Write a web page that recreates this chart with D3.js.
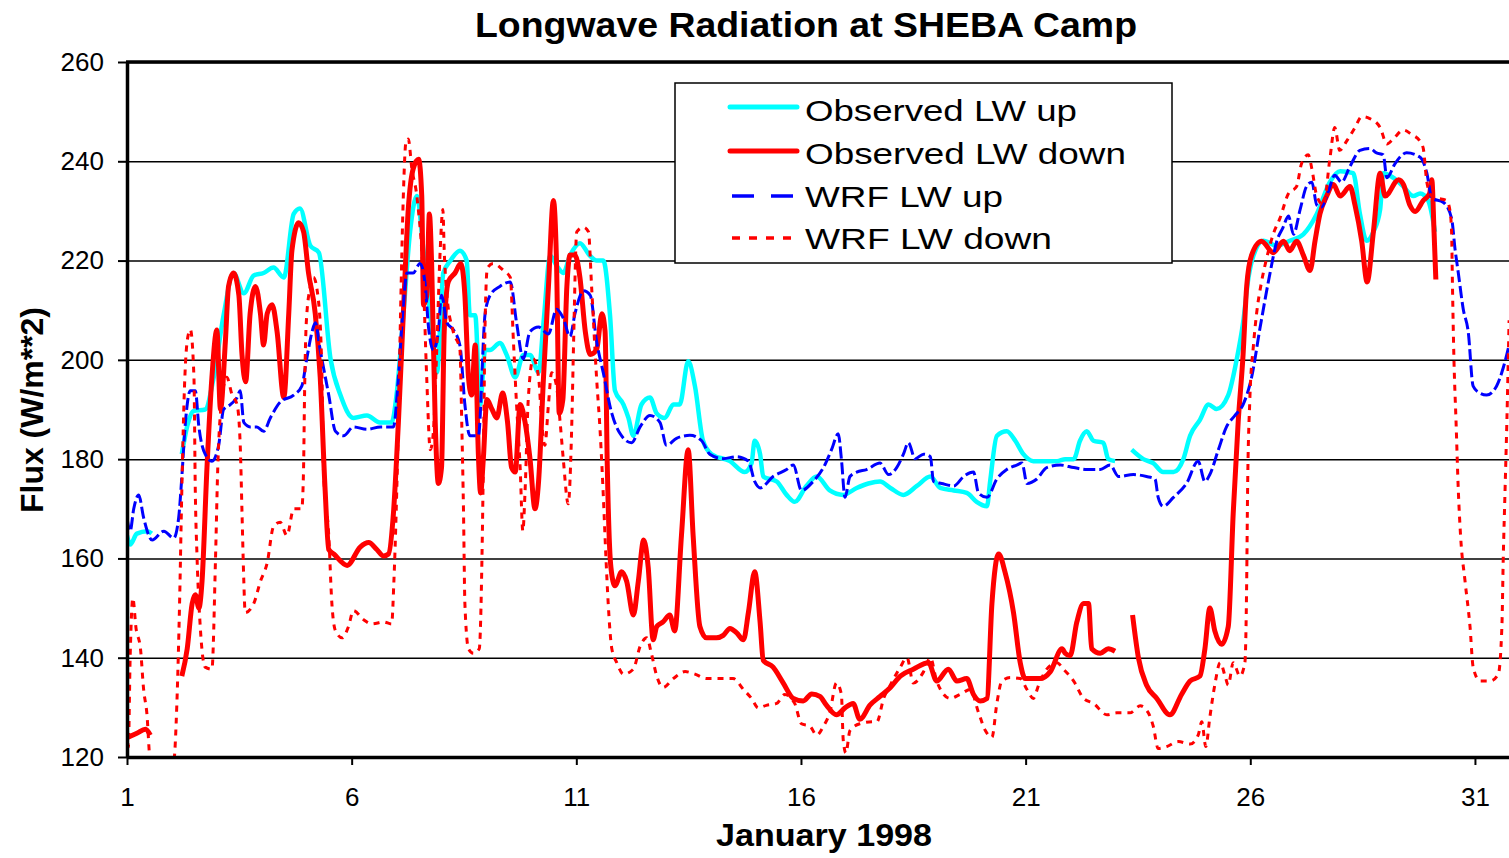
<!DOCTYPE html>
<html lang="en">
<head>
<meta charset="UTF-8">
<title>Longwave Radiation at SHEBA Camp</title>
<script src="https://cdn.jsdelivr.net/npm/d3@7"></script>
<style>
  body { margin: 0; background: #fff; }
  svg { display: block; font-family: "Liberation Sans", Arial, sans-serif; }
</style>
</head>
<body>
<svg width="1509" height="858"></svg>
<script>
// tick labels
var xTicks = [1, 6, 11, 16, 21, 26, 31];
var yTicks = [120, 140, 160, 180, 200, 220, 240, 260];

// legend names
var seriesNames = ["Observed LW up", "Observed LW down", "WRF LW up", "WRF LW down"];

// [day of January 1998, flux W/m2] ; null = missing obs
var obsUp = [[1.0,164.6],[1.07,162.8],[1.22,165],[1.45,165.5],[1.55,165],[1.56,null],
  [2.22,181],[2.35,187],[2.48,189.7],[2.74,190],[2.93,196.5],[3.15,209],[3.37,217.5],[3.6,213.4],[3.82,217],
  [4.04,217.5],[4.26,218.6],[4.49,216.6],[4.71,229.4],[4.85,230.5],[5.08,223],[5.27,221.6],[5.53,200.2],
  [5.75,192.9],[6.04,188.3],[6.34,188.8],[6.63,187.4],[6.89,187.4],[7.0,193],[7.15,209],[7.3,225.8],
  [7.45,233],[7.6,222],[7.75,209],[7.9,197.5],[8.04,217.5],[8.2,220],[8.41,222],[8.56,220],[8.63,209],
  [8.75,209],[8.86,191],[8.97,202],[9.08,202],[9.3,203.4],[9.45,201],[9.64,196.5],[9.82,201],[9.97,201],
  [10.16,197.5],[10.27,207.5],[10.42,221],[10.56,219],[10.71,217.5],[10.86,221],[11.08,223.5],[11.3,221],
  [11.45,220],[11.6,220],[11.75,209],[11.86,193.8],[12.05,191],[12.16,188.3],[12.27,184.7],[12.45,191],
  [12.64,192.4],[12.79,189.2],[12.97,188.3],[13.16,191],[13.3,191],[13.49,199.7],[13.64,194.7],[13.82,183.7],
  [14.01,181],[14.42,179.6],[14.75,177.4],[14.9,179.2],[14.97,183.7],[15.09,181],[15.16,176.5],[15.46,175.5],
  [15.68,172.8],[15.86,171.4],[16.12,174.6],[16.35,176.5],[16.64,173.7],[16.94,172.8],[17.24,174.2],
  [17.5,175.1],[17.76,175.5],[17.99,174.2],[18.28,172.8],[18.58,174.6],[18.88,176.5],[19.1,174.2],
  [19.4,173.7],[19.69,173.2],[19.91,171.4],[20.14,170.5],[20.21,175.5],[20.36,184.7],[20.58,185.6],
  [20.77,183.7],[20.95,181],[21.17,179.6],[21.4,179.6],[21.7,179.6],[21.88,180],[22.07,180],[22.21,183.7],
  [22.36,185.6],[22.51,183.7],[22.73,183.3],[22.84,180],[22.99,179.6],[23.1,null],
  [23.36,181.9],[23.62,180],[23.84,179.2],[24.06,177.4],[24.29,177.4],[24.51,180],[24.66,184.7],[24.88,187.9],
  [25.07,191],[25.25,190.1],[25.51,192.9],[25.7,200.2],[25.84,207.5],[25.96,216.6],[26.07,221],[26.29,224],
  [26.59,223],[26.88,224],[27.18,225.3],[27.48,229.4],[27.77,235.8],[28.0,238],[28.29,237.6],[28.44,229.4],
  [28.59,224],[28.74,225.8],[28.89,230.3],[28.96,237.6],[29.18,236.7],[29.41,234.9],[29.63,233],
  [29.78,233.5],[29.96,232.1],[30.11,225.8]];

var obsDown = [[1.0,123.9],[1.22,124.8],[1.41,125.6],[1.52,124.4],[1.6,null],
  [2.22,136.3],[2.34,141.8],[2.45,150.9],[2.52,152.7],[2.6,150],[2.67,155.4],[2.78,178.3],[2.89,196.5],
  [3.0,206],[3.08,190],[3.19,203.8],[3.26,214.8],[3.37,217.5],[3.49,213],[3.56,201],[3.64,195.6],[3.74,209.3],
  [3.86,214.8],[3.97,209.3],[4.04,203],[4.12,209.3],[4.23,211.1],[4.34,205.7],[4.49,192.4],[4.6,209.3],
  [4.67,222],[4.82,227.6],[4.93,225.8],[5.04,217.5],[5.19,209.3],[5.3,196.5],[5.41,173.7],[5.49,161.8],
  [5.6,160.9],[5.9,158.6],[6.19,162.3],[6.38,163.2],[6.56,161.8],[6.71,160.5],[6.82,160.9],[6.93,169.1],
  [7.04,187.4],[7.15,209.3],[7.26,230.3],[7.37,238.5],[7.49,240.4],[7.56,233],[7.6,211.1],[7.67,212.9],
  [7.73,229.4],[7.78,219.4],[7.86,187.4],[7.93,175.1],[8.0,178.3],[8.06,205.7],[8.15,215.7],[8.3,217.5],
  [8.43,219.4],[8.52,213],[8.6,196.5],[8.67,192.9],[8.75,203],[8.82,181],[8.87,173.2],[8.93,180],[9.01,192],
  [9.12,190.1],[9.23,188.3],[9.36,193.3],[9.47,187.4],[9.56,178.3],[9.64,177.4],[9.75,191],[9.86,187.4],
  [9.97,180],[10.08,170],[10.16,175.5],[10.27,196.5],[10.38,214.8],[10.49,232.1],[10.56,219.4],[10.62,189.2],
  [10.7,192],[10.79,214.8],[10.86,221.1],[10.97,221.1],[11.08,216.6],[11.2,205.7],[11.31,201.1],[11.45,202],
  [11.57,209.3],[11.64,205.7],[11.69,178.3],[11.77,158.2],[11.86,154.5],[12.01,157.3],[12.12,155.4],
  [12.27,148.6],[12.38,155.4],[12.5,163.7],[12.6,158.2],[12.71,143.6],[12.79,146.3],[12.93,147.2],
  [13.08,148.6],[13.19,145.4],[13.34,164.6],[13.49,181.9],[13.6,164.6],[13.75,146.3],[13.9,144],[14.12,144],
  [14.27,144.5],[14.42,145.9],[14.57,145],[14.72,143.6],[14.83,149.1],[14.97,157.3],[15.09,147.2],
  [15.16,139.5],[15.38,138.1],[15.6,135],[15.83,131.8],[16.05,131.3],[16.24,132.7],[16.42,132.2],
  [16.57,130.4],[16.79,128.5],[16.98,129.9],[17.16,130.8],[17.31,127.6],[17.54,130.5],[17.76,132.2],
  [17.99,134],[18.21,136.3],[18.5,137.7],[18.84,139],[19.02,135.3],[19.28,137.7],[19.47,135.3],[19.69,135.8],
  [19.84,132.6],[19.99,131.3],[20.14,131.8],[20.25,150.9],[20.4,160.9],[20.54,157.3],[20.73,149.1],
  [20.88,139],[20.99,135.8],[21.32,135.8],[21.55,137.2],[21.81,141.8],[21.88,140.9],[21.99,140.4],
  [22.14,147.2],[22.29,150.9],[22.4,150.9],[22.47,141.8],[22.66,140.9],[22.84,141.8],[22.99,141.3],[23.1,null],
  [23.38,148.6],[23.51,140],[23.69,134.5],[23.92,131.8],[24.21,128.5],[24.47,132.6],[24.66,135.3],
  [24.88,136.3],[24.99,141.8],[25.1,150],[25.21,145.4],[25.36,142.7],[25.51,146.3],[25.62,169.1],
  [25.73,187.4],[25.84,201.1],[25.92,214.8],[26.03,221.1],[26.25,223.9],[26.51,221.6],[26.74,223.9],
  [26.88,222],[27.03,223.9],[27.18,221.1],[27.33,218],[27.44,223.9],[27.55,229.4],[27.7,233],[27.85,235.3],
  [28.0,233],[28.22,234.9],[28.33,231.2],[28.48,223.9],[28.6,215.7],[28.74,225.8],[28.89,237.6],[29.0,233],
  [29.3,236.3],[29.41,235.3],[29.55,231.2],[29.67,229.9],[29.85,232.1],[29.99,233.5],[30.04,236.3],
  [30.09,225.8],[30.13,216.2]];

var wrfUp = [[1.0,168.2],[1.07,165.5],[1.15,170],[1.26,172.8],[1.37,168.2],[1.56,163.7],[1.82,165.5],
  [2.04,164.1],[2.15,168.2],[2.22,176.4],[2.3,187.4],[2.41,193.8],[2.52,193.8],[2.6,186.5],[2.74,181],
  [2.89,179.6],[3.04,182.8],[3.15,190],[3.3,191],[3.45,192.4],[3.52,193.8],[3.6,187.4],[3.74,186.5],
  [3.89,186.5],[4.04,185.6],[4.19,188.3],[4.41,191.5],[4.71,192.9],[4.89,194.7],[5.0,200.2],[5.12,205.7],
  [5.19,207.5],[5.3,202],[5.49,192.9],[5.64,185.6],[5.82,184.7],[6.04,186.5],[6.34,186],[6.64,186.5],
  [6.93,186.5],[7.04,196.5],[7.15,211.1],[7.23,217.5],[7.37,217.5],[7.52,219.4],[7.63,215.7],[7.71,206.6],
  [7.82,202],[7.93,205.7],[8.0,213],[8.12,207.5],[8.26,206.1],[8.41,202.9],[8.52,191],[8.63,184.7],
  [8.82,184.7],[8.97,209.3],[9.08,213],[9.3,214.8],[9.53,215.7],[9.67,207.5],[9.82,200.2],[9.97,205.7],
  [10.16,206.6],[10.38,205.2],[10.56,210.2],[10.71,208.4],[10.86,204.7],[10.97,209.3],[11.16,213.9],
  [11.31,213],[11.45,203.8],[11.6,197.4],[11.79,189.2],[11.97,185.2],[12.23,183.3],[12.42,186.5],
  [12.64,188.8],[12.86,187.4],[13.01,182.8],[13.23,184.2],[13.53,184.8],[13.79,183.7],[13.97,181],
  [14.27,180.1],[14.57,180.5],[14.83,179.6],[14.97,175.5],[15.09,174.2],[15.38,176.5],[15.68,177.9],
  [15.83,178.8],[16.01,173.7],[16.27,175.5],[16.5,178.3],[16.68,181.9],[16.83,185.1],[16.9,180],
  [16.98,172.3],[17.09,176.5],[17.24,177.4],[17.46,177.9],[17.76,179.2],[17.95,176.9],[18.13,178.3],
  [18.28,181],[18.39,183.3],[18.54,180.1],[18.73,181],[18.88,180.5],[18.95,175.5],[19.13,175.1],[19.4,174.6],
  [19.62,176.5],[19.84,177.4],[19.95,173.2],[20.14,172.3],[20.36,176],[20.58,177.9],[20.8,178.8],
  [20.92,179.2],[21.03,175.1],[21.25,176],[21.47,178.3],[21.77,178.8],[22.07,178.3],[22.36,177.9],
  [22.66,177.9],[22.88,178.8],[23.07,176.5],[23.4,176.9],[23.69,176.5],[23.88,176],[23.95,172.3],
  [24.06,170.5],[24.29,172.3],[24.58,175.1],[24.84,179.6],[24.99,175.5],[25.1,176.9],[25.29,181.9],
  [25.47,186.5],[25.66,188.8],[25.84,191],[26.03,196.5],[26.22,206.6],[26.44,217.5],[26.59,223.9],
  [26.73,226.7],[26.85,229],[26.96,225.3],[27.11,230.3],[27.25,234.9],[27.37,235.8],[27.48,231.2],
  [27.59,230.8],[27.74,234],[27.88,237.2],[28.03,235.8],[28.22,239],[28.44,242.2],[28.66,242.6],
  [28.81,241.7],[28.96,241.3],[29.04,236.7],[29.22,239.5],[29.48,241.7],[29.78,240.8],[29.93,237.6],
  [30.04,232.6],[30.3,231.7],[30.48,228.5],[30.56,222.1],[30.63,217.5],[30.74,210.2],[30.85,205.7],
  [30.96,194.7],[31.11,193.3],[31.26,192.9],[31.48,194.7],[31.63,198.4],[31.76,203]];

var wrfDown = [[1.0,130],[1.03,122],[1.07,140],[1.13,152],[1.2,146],[1.3,141.8],[1.37,133.6],[1.44,129],
  [1.52,119],[1.8,116],[2.04,119],[2.11,130.8],[2.17,150.9],[2.22,173.7],[2.28,194.7],[2.34,203.8],
  [2.41,206.1],[2.49,196.5],[2.52,173.7],[2.56,160],[2.63,146.3],[2.74,138.1],[2.89,137.7],[2.97,160],
  [3.02,178.3],[3.08,189.2],[3.22,196.5],[3.34,192.9],[3.45,191],[3.52,182.8],[3.56,169.1],[3.6,155.4],
  [3.63,149.1],[3.82,150.9],[3.97,155.4],[4.12,159.1],[4.26,166.4],[4.41,167.3],[4.56,164.6],[4.71,170],
  [4.89,170],[4.93,178.3],[4.95,192],[4.99,207.5],[5.08,214.8],[5.15,216.6],[5.26,212],[5.34,196.5],
  [5.37,178.3],[5.49,164.6],[5.56,150.9],[5.64,145.4],[5.79,144],[5.93,146.3],[6.04,149.5],[6.26,147.7],
  [6.45,146.8],[6.71,147.2],[6.89,146.8],[6.94,155.4],[6.99,169.1],[7.04,187.4],[7.09,210.2],[7.15,233],
  [7.21,244],[7.26,244.5],[7.34,238.5],[7.45,233],[7.6,214.8],[7.67,196.5],[7.75,181.9],[7.82,185.6],
  [7.89,201.1],[7.97,222],[8.03,230.3],[8.06,222],[8.12,213],[8.26,205.7],[8.41,202],[8.45,187.4],
  [8.49,169.1],[8.52,150.9],[8.6,141.8],[8.71,140.9],[8.84,141.8],[8.9,160],[8.93,178.3],[8.97,207.5],
  [9.02,218.5],[9.15,219.4],[9.38,218],[9.53,216.6],[9.6,203.8],[9.67,191],[9.75,178.3],[9.81,165.5],
  [9.86,173.7],[9.93,192],[10.04,200.2],[10.16,196.5],[10.23,187.4],[10.3,182.8],[10.38,191],[10.45,197.4],
  [10.56,194.7],[10.64,187.4],[10.71,180],[10.82,171],[10.9,187.4],[10.94,203.8],[11.01,225.8],
  [11.16,226.7],[11.27,225.8],[11.34,214.8],[11.45,196.5],[11.53,185.6],[11.6,172.8],[11.66,160],
  [11.71,150.9],[11.79,141.8],[11.9,139],[12.05,136.7],[12.27,137.7],[12.42,142.3],[12.57,144],
  [12.67,140.9],[12.79,136.3],[12.93,134],[13.16,135.8],[13.42,137.2],[13.64,136.7],[13.9,135.8],
  [14.2,135.8],[14.49,135.8],[14.72,133.6],[14.9,131.8],[15.05,129.9],[15.23,130.4],[15.46,130.8],
  [15.64,132.6],[15.86,130.8],[16.01,126.7],[16.2,126.2],[16.35,124.4],[16.5,126.2],[16.64,128.9],
  [16.79,134.9],[16.9,132.6],[16.94,123.5],[17.0,120.8],[17.09,125.3],[17.31,126.7],[17.61,127.1],
  [17.69,127.1],[17.84,131.8],[17.99,134.5],[18.21,138.1],[18.36,140],[18.5,134.9],[18.73,137.2],
  [18.88,140],[19.02,135.3],[19.32,131.8],[19.54,132.6],[19.77,133.6],[19.95,129],[20.1,125.4],[20.25,124],
  [20.36,130.8],[20.47,135.3],[20.66,136],[20.88,135.8],[21.03,133.6],[21.17,131.8],[21.29,134.5],
  [21.47,137.7],[21.7,139],[21.84,137.7],[22.07,135.3],[22.29,131.8],[22.51,130.8],[22.81,128.5],
  [23.03,128.9],[23.32,128.9],[23.55,130.3],[23.73,128.9],[23.84,126.2],[23.95,121.7],[24.14,122.1],
  [24.4,123.1],[24.66,122.6],[24.84,124.4],[24.92,127.1],[25.01,122.1],[25.1,128],[25.21,134.5],[25.33,139],
  [25.44,136.3],[25.51,134.5],[25.62,139],[25.77,136.3],[25.88,139],[25.92,155.4],[25.94,173.7],[25.99,192],
  [26.07,202.9],[26.14,209.3],[26.25,215.7],[26.36,220.3],[26.51,225.3],[26.66,228.5],[26.85,233.5],
  [27.03,234.9],[27.14,239.5],[27.29,241.3],[27.37,238.5],[27.48,233],[27.63,231.2],[27.77,240.4],
  [27.88,246.8],[27.99,242.2],[28.14,244],[28.33,246.8],[28.48,249],[28.66,248.6],[28.89,246.8],
  [29.04,243.5],[29.18,244.5],[29.41,246.3],[29.59,245.4],[29.78,244],[29.85,242.6],[29.93,235.8],
  [30.04,233],[30.15,232.6],[30.37,232.1],[30.44,230.3],[30.48,225.8],[30.5,214.8],[30.53,201.1],
  [30.58,187.4],[30.63,173.7],[30.68,164.6],[30.78,155.4],[30.89,146.3],[30.96,138.1],[31.11,135.3],
  [31.34,135.3],[31.52,136.7],[31.6,146.3],[31.63,160],[31.67,173.7],[31.71,187.4],[31.76,208]];

var svg = d3.select("svg");
// plot box (note: "top" is reserved on window, so use plot* names)
var plotLeft = 127, plotRight = 1509, plotTop = 62, plotBottom = 757;

var x = d3.scaleLinear().domain([1, 31.758]).range([plotLeft, plotRight]);
var y = d3.scaleLinear().domain([120, 260]).range([plotBottom, plotTop]);

// horizontal grid lines
svg.append("g")
    .attr("transform", "translate(" + plotLeft + ",0)")
    .call(d3.axisLeft(y).tickValues(yTicks.slice(1)).tickSize(-(plotRight - plotLeft)).tickFormat(""))
    .call(function (g) { g.select(".domain").remove(); })
    .selectAll("line").attr("stroke", "#000").attr("stroke-width", 1.5);

// top frame line
svg.append("line")
    .attr("x1", plotLeft - 1).attr("x2", plotRight)
    .attr("y1", y(260)).attr("y2", y(260))
    .attr("stroke", "#000").attr("stroke-width", 3.5);

svg.append("clipPath").attr("id", "plot")
    .append("rect").attr("x", plotLeft).attr("y", plotTop)
    .attr("width", plotRight - plotLeft).attr("height", plotBottom - plotTop);

var line = d3.line()
    .defined(function (d) { return d[1] !== null; })
    .x(function (d) { return x(d[0]); })
    .y(function (d) { return y(d[1]); })
    .curve(d3.curveMonotoneX);

var series = [
    { data: obsUp,   color: "#00ffff", width: 4.5, dash: null,   legDash: null },
    { data: obsDown, color: "#ff0000", width: 5,   dash: null,   legDash: null },
    { data: wrfUp,   color: "#0000ff", width: 3,   dash: "12,4", legDash: "22,17" },
    { data: wrfDown, color: "#ff0000", width: 3,   dash: "6,6",  legDash: "8,9" }
];

var plot = svg.append("g").attr("clip-path", "url(#plot)");
plot.selectAll("path").data(series).enter()
    .append("path")
    .attr("d", function (d) { return line(d.data); })
    .attr("fill", "none")
    .attr("stroke", function (d) { return d.color; })
    .attr("stroke-width", function (d) { return d.width; })
    .attr("stroke-dasharray", function (d) { return d.dash; })
    .attr("stroke-linejoin", "round");

// axes
var yAxis = svg.append("g")
    .attr("transform", "translate(" + plotLeft + ",0)")
    .call(d3.axisLeft(y).tickValues(yTicks).tickSize(9).tickSizeOuter(0).tickPadding(14));
var xAxis = svg.append("g")
    .attr("transform", "translate(0," + plotBottom + ")")
    .call(d3.axisBottom(x).tickValues(xTicks).tickSize(8).tickSizeOuter(0).tickPadding(23));

[yAxis, xAxis].forEach(function (g) {
    g.select(".domain").attr("stroke", "#000").attr("stroke-width", 3.5);
    g.selectAll(".tick line").attr("stroke", "#000").attr("stroke-width", 2);
    g.selectAll("text").attr("fill", "#000")
        .style("font-family", "'Liberation Sans', Arial, sans-serif").style("font-size", "26px");
});

// titles
svg.append("text")
    .attr("x", 475).attr("y", 37)
    .attr("textLength", 662).attr("lengthAdjust", "spacingAndGlyphs")
    .style("font-size", "35px").style("font-weight", "bold")
    .text("Longwave Radiation at SHEBA Camp");

svg.append("text")
    .attr("x", 716).attr("y", 846)
    .attr("textLength", 216).attr("lengthAdjust", "spacingAndGlyphs")
    .style("font-size", "32px").style("font-weight", "bold")
    .text("January 1998");

svg.append("text")
    .attr("transform", "translate(43,513) rotate(-90)")
    .attr("textLength", 206).attr("lengthAdjust", "spacingAndGlyphs")
    .style("font-size", "32px").style("font-weight", "bold")
    .text("Flux (W/m**2)");

// legend
var legend = svg.append("g");
legend.append("rect")
    .attr("x", 675).attr("y", 83).attr("width", 497).attr("height", 180)
    .attr("fill", "#fff").attr("stroke", "#000").attr("stroke-width", 1.5);

var legLineY = [107, 151, 196, 238];
var legTextY = [121, 164, 207, 249];
var legTextW = [272, 321, 198, 247];

var items = legend.selectAll("g.item").data(series).enter().append("g").attr("class", "item");
items.append("line")
    .attr("x1", function (d, i) { return i < 2 ? 730 : 732; })
    .attr("x2", function (d, i) { return i < 2 ? 797 : 795; })
    .attr("y1", function (d, i) { return legLineY[i]; })
    .attr("y2", function (d, i) { return legLineY[i]; })
    .attr("stroke", function (d) { return d.color; })
    .attr("stroke-width", function (d, i) { return i < 2 ? 5 : 3.5; })
    .attr("stroke-linecap", function (d, i) { return i < 2 ? "round" : "butt"; })
    .attr("stroke-dasharray", function (d) { return d.legDash; });
items.append("text")
    .attr("x", 805)
    .attr("y", function (d, i) { return legTextY[i]; })
    .attr("textLength", function (d, i) { return legTextW[i]; })
    .attr("lengthAdjust", "spacingAndGlyphs")
    .style("font-size", "30px")
    .text(function (d, i) { return seriesNames[i]; });
</script>
</body>
</html>
